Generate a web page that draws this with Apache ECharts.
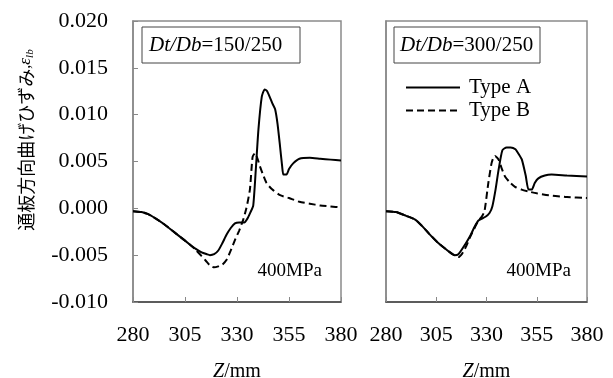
<!DOCTYPE html>
<html>
<head>
<meta charset="utf-8">
<script src="https://cdn.jsdelivr.net/npm/echarts@6/dist/echarts.min.js"></script>
<style>
html,body{margin:0;padding:0;background:#fff;}
#chart{width:613px;height:378px;}
</style>
</head>
<body>
<div id="chart"></div>
<script>
// ---- Data (Z in mm, strain) ----
const zTicks = [280, 305, 330, 355, 380];
const yTicks = [-0.010, -0.005, 0.000, 0.005, 0.010, 0.015, 0.020];
const seriesNames = ['Type A', 'Type B'];
const panelTitles = ['150/250', '300/250'];

const left_TypeA = [[280,-0.0003],[284,-0.0004],[287,-0.0006],[291,-0.0011],[295,-0.0017],[299,-0.0024],[303,-0.0031],[307,-0.0038],[310,-0.0043],[313,-0.0047],[315.5,-0.0049],[317,-0.0050],[319,-0.0049],[321,-0.0045],[323,-0.0037],[325,-0.0028],[327,-0.0021],[329,-0.0016],[331,-0.0015],[333.5,-0.0015],[335,-0.0011],[336.5,-0.0004],[337.8,0.0003],[339,0.0040],[340.3,0.0084],[341.9,0.0119],[343.3,0.0127],[344.5,0.0125],[345.9,0.0118],[347,0.0112],[348.3,0.0106],[349.5,0.0090],[350.7,0.0066],[351.7,0.0045],[352.3,0.0036],[353.8,0.0036],[355,0.0042],[357,0.0048],[360,0.0053],[365,0.0054],[370,0.0053],[375,0.0052],[380,0.0051]];

const left_TypeB = [[280,-0.0003],[284,-0.0004],[287,-0.0006],[291,-0.0011],[295,-0.0017],[299,-0.0024],[303,-0.0031],[307,-0.0038],[310,-0.0044],[313,-0.0051],[315,-0.0056],[317,-0.0061],[319,-0.0063],[321,-0.0062],[323,-0.0060],[325,-0.0055],[327,-0.0045],[329,-0.0034],[331,-0.0024],[333,-0.0012],[334.5,0.0000],[336.2,0.0020],[337.5,0.0055],[338.7,0.0059],[340,0.0052],[341,0.0045],[342.5,0.0036],[344.2,0.0027],[347,0.0020],[350.7,0.0014],[355,0.0011],[360,0.0007],[365,0.0005],[370,0.0003],[375,0.0002],[380,0.0001]];

const right_TypeA = [[280,-0.0003],[285,-0.0004],[290,-0.0008],[294.5,-0.0012],[298,-0.0019],[302.7,-0.0030],[306,-0.0037],[310,-0.0044],[314,-0.0050],[316,-0.0049],[319.5,-0.0038],[322,-0.0029],[324,-0.0020],[326,-0.0013],[329.5,-0.0009],[331.5,-0.0005],[332.9,0.0002],[334.5,0.0020],[336,0.0041],[337.9,0.0062],[340,0.0065],[342,0.0065],[344.4,0.0063],[346,0.0058],[347.6,0.0052],[349.5,0.0035],[350.9,0.0020],[352.5,0.0020],[354,0.0027],[355.8,0.0032],[359,0.0035],[362.4,0.0036],[370,0.0035],[380,0.0034]];

const right_TypeB = [[280,-0.0003],[285,-0.0004],[290,-0.0008],[294.5,-0.0012],[298,-0.0019],[302.7,-0.0030],[306,-0.0037],[310,-0.0044],[314,-0.0050],[316,-0.0052],[318,-0.0048],[320,-0.0040],[322,-0.0030],[324.3,-0.0020],[326,-0.0013],[327.6,-0.0009],[329,-0.0003],[330.9,0.0027],[332.5,0.0048],[333.4,0.0054],[334.2,0.0056],[336,0.0052],[337.5,0.0043],[339.2,0.0034],[341.5,0.0028],[344.2,0.0023],[347.5,0.0020],[350.9,0.0018],[355,0.0016],[361,0.0014],[370,0.0012],[380,0.0011]];

// ---- Chart ----
const serif = '"Liberation Serif","DejaVu Serif",serif';
const chart = echarts.init(document.getElementById('chart'), null, {renderer: 'canvas'});

function xAxisFor(gridIndex) {
  return {
    type: 'value', gridIndex: gridIndex, min: zTicks[0], max: zTicks[zTicks.length - 1],
    name: '{i|Z}{n|/mm}', nameLocation: 'middle', nameGap: 60,
    nameTextStyle: {rich: {i: {fontFamily: serif, fontStyle: 'italic', fontSize: 20, color: '#000'}, n: {fontFamily: serif, fontSize: 20, color: '#000'}}},
    axisLine: {show: true, onZero: false, lineStyle: {color: '#444', width: 1.5}},
    axisTick: {show: true, inside: true, length: 5, customValues: zTicks, lineStyle: {color: '#888', width: 1}},
    axisLabel: {customValues: zTicks, margin: 22, fontFamily: serif, fontSize: 22, color: '#000'},
    splitLine: {show: false}
  };
}
function yAxisFor(gridIndex, showLabels) {
  return {
    type: 'value', gridIndex: gridIndex, min: yTicks[0], max: yTicks[yTicks.length - 1], interval: 0.005,
    axisLine: {show: true, onZero: false, lineStyle: {color: '#888', width: 1.5}},
    axisTick: {show: showLabels, inside: true, length: 5, lineStyle: {color: '#888', width: 1}},
    axisLabel: {show: showLabels, margin: 25, fontFamily: serif, fontSize: 22, color: '#000',
      formatter: v => v.toFixed(3)},
    splitLine: {show: false}
  };
}
function lineSeries(name, data, idx, dashed) {
  return {
    name: name, type: 'line', xAxisIndex: idx, yAxisIndex: idx, data: data,
    showSymbol: false, symbol: 'circle', smooth: 0.2, animation: false,
    lineStyle: {color: '#000', width: 2, type: dashed ? [7, 4] : 'solid'},
    itemStyle: {color: '#000'}
  };
}

const titleRich = {
  i: {fontFamily: serif, fontStyle: 'italic', fontSize: 21, fill: '#000'},
  n: {fontFamily: serif, fontSize: 21, fill: '#000'}
};

const option = {
  backgroundColor: '#fff',
  animation: false,
  grid: [
    {left: 133, top: 21, width: 208, height: 281, show: true, borderColor: '#8a8a8a', borderWidth: 1.5, containLabel: false, outerBoundsMode: 'none'},
    {left: 386, top: 21, width: 201, height: 281, show: true, borderColor: '#8a8a8a', borderWidth: 1.5, containLabel: false, outerBoundsMode: 'none'}
  ],
  xAxis: [xAxisFor(0), xAxisFor(1)],
  yAxis: [yAxisFor(0, true), yAxisFor(1, false)],
  legend: {
    data: seriesNames, orient: 'vertical', left: 400, top: 72,
    itemWidth: 54, itemHeight: 12, itemGap: 2,
    itemStyle: {color: 'rgba(0,0,0,0)', borderWidth: 0, opacity: 0},
    textStyle: {fontFamily: serif, fontSize: 21, color: '#000', padding: [0, 0, 0, 4]},
    inactiveColor: '#000', selectedMode: false
  },
  series: [
    lineSeries(seriesNames[0], left_TypeA, 0, false),
    lineSeries(seriesNames[1], left_TypeB, 0, true),
    lineSeries(seriesNames[0], right_TypeA, 1, false),
    lineSeries(seriesNames[1], right_TypeB, 1, true)
  ],
  graphic: [
    {type: 'rect', shape: {x: 142, y: 27, width: 158, height: 36}, style: {fill: '#fff', stroke: '#444', lineWidth: 1}},
    {type: 'text', x: 149, y: 45, style: {text: '{i|Dt/Db}{n|=' + panelTitles[0] + '}', rich: titleRich, verticalAlign: 'middle', align: 'left'}},
    {type: 'rect', shape: {x: 394, y: 27, width: 146, height: 36}, style: {fill: '#fff', stroke: '#444', lineWidth: 1}},
    {type: 'text', x: 400, y: 45, style: {text: '{i|Dt/Db}{n|=' + panelTitles[1] + '}', rich: titleRich, verticalAlign: 'middle', align: 'left'}},
    {type: 'text', x: 322, y: 271, style: {text: '400MPa', font: '19px ' + serif, fill: '#000', align: 'right', verticalAlign: 'middle'}},
    {type: 'text', x: 571, y: 271, style: {text: '400MPa', font: '19px ' + serif, fill: '#000', align: 'right', verticalAlign: 'middle'}},
    {type: 'text', x: 26, y: 140, rotation: Math.PI / 2,
      style: {text: '{c|通板方向曲げひずみ}{n|,}{e|ε}{s|lb}', align: 'center', verticalAlign: 'middle',
        rich: {
          c: {fontFamily: '"Noto Sans CJK JP"', fontSize: 18, fill: '#000'},
          n: {fontFamily: serif, fontSize: 16, fill: '#000'},
          e: {fontFamily: serif, fontStyle: 'italic', fontSize: 17, fill: '#000'},
          s: {fontFamily: serif, fontStyle: 'italic', fontSize: 11, fill: '#000', verticalAlign: 'bottom', padding: [8, 0, 0, 0]}
        }}}
  ]
};
chart.setOption(option);
</script>
</body>
</html>
